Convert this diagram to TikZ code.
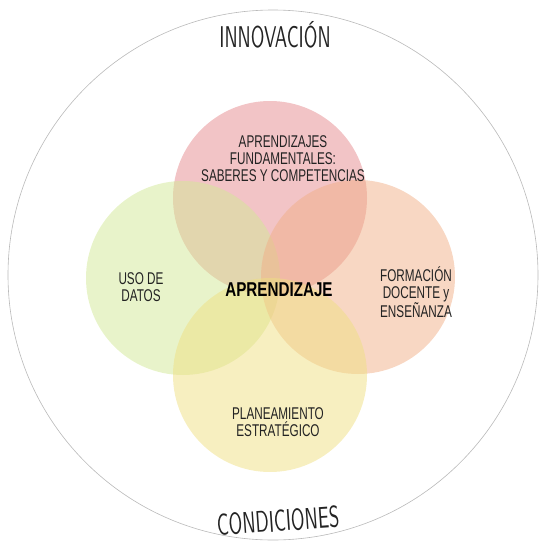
\documentclass[tikz,border=0pt]{standalone}
\usepackage{fontspec}
\newfontfamily\lblfont{Liberation Sans}[FakeStretch=0.69]
\newfontfamily\bigfont{Liberation Sans}[FakeStretch=0.76]
\newfontfamily\handfont{lmsans10-regular.otf}[FakeStretch=0.62]
\definecolor{cred}{RGB}{229,137,141}
\definecolor{cgreen}{RGB}{210,232,150}
\definecolor{corange}{RGB}{241,175,135}
\definecolor{cyellow}{RGB}{239,223,130}
\definecolor{txt}{RGB}{35,35,35}
\definecolor{ring}{RGB}{185,185,185}
\tikzset{
  petal/.style={circle, minimum size=194pt, inner sep=0pt, fill opacity=0.5, draw=none},
  lbl/.style={align=center, text=txt, font=\lblfont\fontsize{17}{17}\selectfont},
  hand/.style={text=txt, font=\handfont\fontsize{30}{30}\selectfont}
}
\begin{document}
\begin{tikzpicture}[x=1pt,y=-1pt]
\useasboundingbox (0,0) rectangle (539,544);
\node[circle, minimum size=530pt, inner sep=0pt, draw=ring, line width=0.6pt] (outer) at (273,275) {};
\node[petal, fill=cred] (top) at (270,198) {};
\node[petal, fill=cgreen] (left) at (183,278) {};
\node[petal, fill=corange] (right) at (358,277) {};
\node[petal, fill=cyellow] (bottom) at (270,375) {};
\node[lbl] (ltop) at (283,159) {APRENDIZAJES\\FUNDAMENTALES:\\SABERES Y COMPETENCIAS};
\node[lbl] (lleft) at (141,287) {USO DE\\DATOS};
\node[lbl] (lright) at (416,292) {FORMACIÓN\\DOCENTE y\\ENSEÑANZA};
\node[lbl] (lbottom) at (278,422) {PLANEAMIENTO\\ESTRATÉGICO};
\node[text=black, font=\bigfont\bfseries\fontsize{20}{20}\selectfont] (center) at (279,290) {APRENDIZAJE};
\node[hand] (innov) at (275,35) {INNOVACIÓN};
\node[hand, rotate=4] (cond) at (278,521) {CONDICIONES};
\end{tikzpicture}
\end{document}
